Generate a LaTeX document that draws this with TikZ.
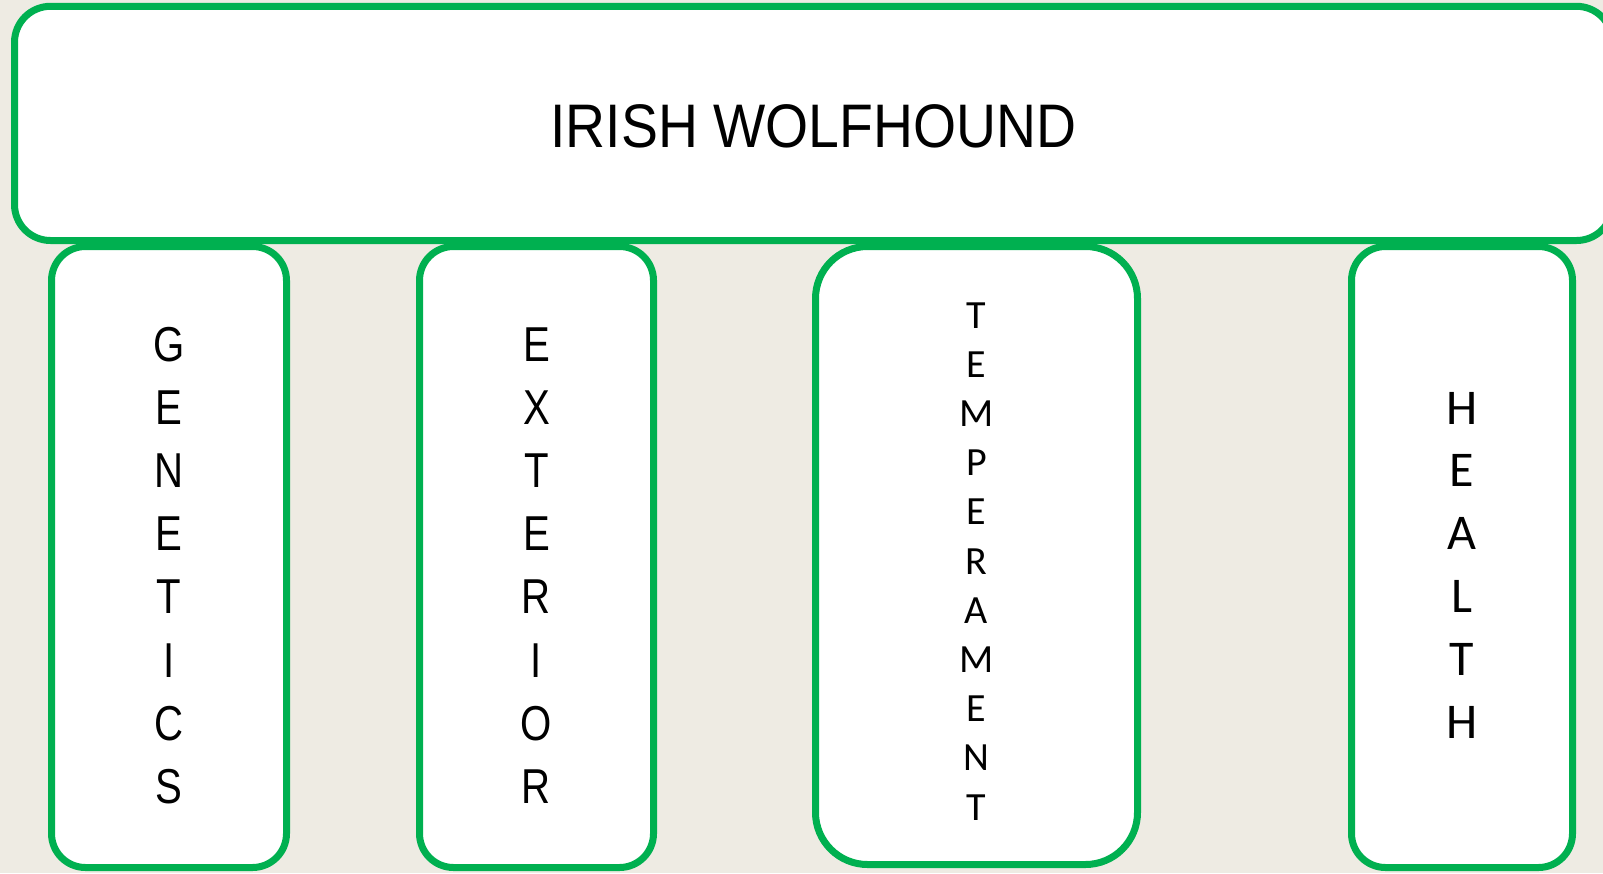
\documentclass[tikz,border=0pt]{standalone}
\usepackage{fontspec}
\setmainfont{Liberation Sans}
\newfontfamily\titlefont[FakeStretch=0.9]{Liberation Sans}
\newfontfamily\narrowfont[FakeStretch=0.82]{Liberation Sans}
\newfontfamily\calfont{Carlito}
\definecolor{boxgreen}{HTML}{00B050}
\definecolor{bgbeige}{HTML}{EEEBE3}
\begin{document}
\begin{tikzpicture}[x=1pt,y=-1pt,
    box/.style={draw=boxgreen, line width=7pt, fill=white, rounded corners=36pt, inner sep=0pt},
    letter/.style={anchor=base, inner sep=0pt}]
    \useasboundingbox (0,0) rectangle (1603,873);
    \fill[bgbeige] (0,0) rectangle (1603,873);
    \node[box, rounded corners=34pt, minimum width=235pt, minimum height=621pt] (genetics) at (169,557) {};
    \node[box, rounded corners=34pt, minimum width=234pt, minimum height=621pt] (exterior) at (536.5,557) {};
    \node[box, rounded corners=52pt, minimum width=322pt, minimum height=618pt] (temperament) at (976.5,555.5) {};
    \node[box, rounded corners=34pt, minimum width=221pt, minimum height=621pt] (health) at (1462,557) {};
    \node[box, minimum width=1598pt, minimum height=234.2pt, text height=47.5pt, text depth=0pt, font=\titlefont\fontsize{61.5}{70}\selectfont] (wolfhound) at (813.5,123.4) {IRISH WOLFHOUND};
    \foreach \l [count=\i] in {G,E,N,E,T,I,C,S}
        \node[letter, font=\narrowfont\fontsize{49}{60}\selectfont] (genetics-\i) at (169,{361+63.2*(\i-1)}) {\l};
    \foreach \l [count=\i] in {E,X,T,E,R,I,O,R}
        \node[letter, font=\narrowfont\fontsize{49}{60}\selectfont] (exterior-\i) at (536.5,{361+63.2*(\i-1)}) {\l};
    \foreach \l [count=\i] in {T,E,M,P,E,R,A,M,E,N,T}
        \node[letter, font=\calfont\fontsize{40}{48}\selectfont] (temperament-\i) at (976.5,{328+49.2*(\i-1)}) {\l};
    \foreach \l [count=\i] in {H,E,A,L,T,H}
        \node[letter, font=\calfont\fontsize{50}{60}\selectfont] (health-\i) at (1462,{424+62.8*(\i-1)}) {\l};
\end{tikzpicture}
\end{document}
